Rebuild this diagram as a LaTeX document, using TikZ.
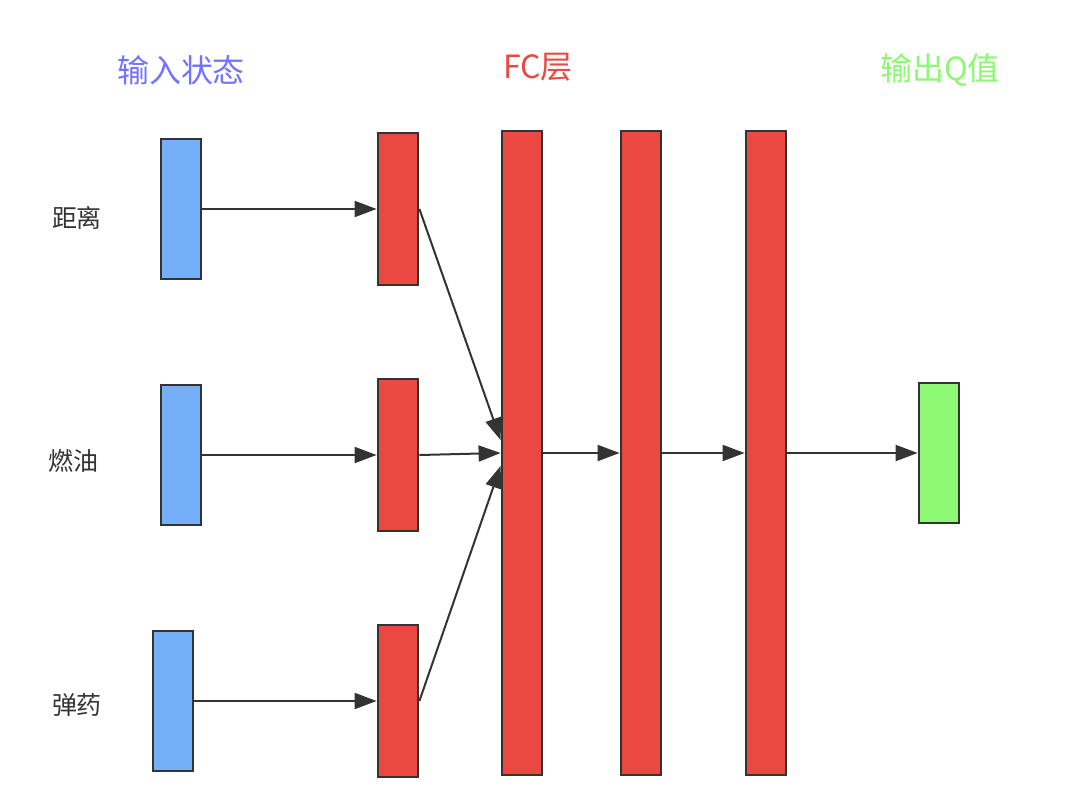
\documentclass[tikz,border=0pt]{standalone}
\usepackage{fontspec}
\setmainfont{Noto Sans CJK SC}
\usetikzlibrary{arrows.meta,calc}
\definecolor{inblue}{HTML}{74AFF8}
\definecolor{fcred}{HTML}{EA4841}
\definecolor{outgreen}{HTML}{8CF873}
\definecolor{edgegray}{HTML}{333333}
\tikzset{
  >={Triangle[length=11pt,width=8pt]},
  {layer/.style} ={draw=edgegray, line width=1.4pt, rectangle,
                   minimum width=20pt, inner sep=0},
  {input box/.style} ={layer, fill=inblue, minimum height=70pt},
  {fc box/.style} ={layer, fill=fcred, minimum height=76pt},
  {fc layer/.style} ={layer, fill=fcred, minimum height=322pt},
  {out box/.style} ={layer, fill=outgreen, minimum height=70pt},
  {link/.style} ={draw=edgegray, line width=1pt, ->},
  {title/.style} ={font=\fontsize{16}{19}\selectfont},
  {feature/.style} ={font=\fontsize{12.5}{15}\selectfont, text=black!80},
}
\begin{document}
\begin{tikzpicture}[x=0.5pt,y=-0.5pt]
\useasboundingbox (0,0) rectangle (1072,798);
% titles
\node[title, text=blue!55] (T1) at (181,70) {输入状态};
\node[title, text=fcred] (T2) at (538,67) {FC层};
\node[title, text=outgreen] (T3) at (940,70) {输出Q值};
% input states
\node[feature] (L1) at (77,218) {距离};
\node[feature] (L2) at (73,461) {燃油};
\node[feature] (L3) at (77,705) {弹药};
\node[input box] (b1) at (181,209) {};
\node[input box] (b2) at (181,455) {};
\node[input box] (b3) at (173,701) {};
\foreach \i/\y in {1/209, 2/455, 3/701}{
  \node[fc box] (r\i) at (398,\y) {};
}
\node[fc layer] (f1) at (522,453) {};
\node[fc layer] (f2) at (641,453) {};
\node[fc layer] (f3) at (766,453) {};
\node[out box] (Q) at (939,453) {};
% connections
\foreach \i in {1,2,3}{
  \path[link] (b\i.east) -- (b\i.east -| r\i.west);
}
\path[link] (r1.east) -- ($(f1.west)+(0,-13)$);
\path[link] (r2.east) -- (f1.west);
\path[link] (r3.east) -- ($(f1.west)+(0,13)$);
\path[link] (f1.east) -- (f2.west);
\path[link] (f2.east) -- (f3.west);
\path[link] (f3.east) -- (Q.west);
\end{tikzpicture}
\end{document}
